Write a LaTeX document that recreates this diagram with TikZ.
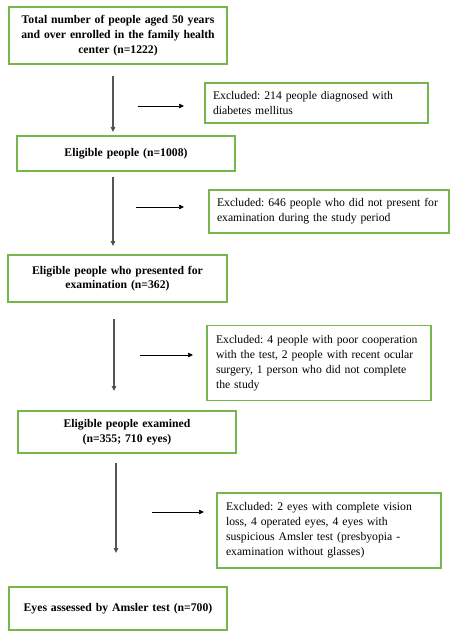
\documentclass[tikz,border=0pt]{standalone}
\usepackage{fontspec}
\setmainfont{Liberation Serif}
\usetikzlibrary{arrows.meta}
\definecolor{boxgreen}{RGB}{118,182,76}
\definecolor{arrgray}{RGB}{85,85,85}
\frenchspacing
\begin{document}
\begin{tikzpicture}[x=1pt,y=-1pt,
  mainbox/.style={draw=boxgreen,line width=1.3pt,rectangle,inner sep=0pt,align=center,
    font=\fontsize{11.7}{14.7}\selectfont\bfseries},
  exbox/.style={draw=boxgreen,line width=1.3pt,rectangle,inner sep=0pt,align=left,
    font=\fontsize{11.7}{14.9}\selectfont},
  vflow/.style={draw=arrgray,line width=1.1pt,-{Triangle[length=5pt,width=4.5pt,fill=black]}},
  hflow/.style={draw=black,line width=0.7pt,-{Triangle[length=5pt,width=4.5pt]}}
]
\useasboundingbox (0,0) rectangle (450,636);
\fill[white] (0,0) rectangle (450,636);

\node[mainbox,minimum width=218pt,minimum height=57pt,text width=210pt] (b1) at (118,35.5)
  {Total number of people aged 50 years\\ and over enrolled in the family health\\ center (n=1222)};
\node[exbox,minimum width=223pt,minimum height=40pt,text width=207pt] (e1) at (316.5,103)
  {Excluded: 214 people diagnosed with\\ diabetes mellitus};
\node[mainbox,minimum width=218pt,minimum height=35pt,text width=210pt] (b2) at (126,153.5)
  {Eligible people (n=1008)};
\node[exbox,minimum width=240pt,minimum height=43pt,text width=224pt] (e2) at (329,211.5)
  {Excluded: 646 people who did not present for\\ examination during the study period};
\node[mainbox,minimum width=219pt,minimum height=47pt,text width=210pt] (b3) at (117.5,278.5)
  {Eligible people who presented for\\ examination (n=362)};
\node[exbox,minimum width=224pt,minimum height=75pt,text width=206pt] (e3) at (319,363)
  {Excluded: 4 people with poor cooperation\\ with the test, 2 people with recent ocular\\ surgery, 1 person who did not complete\\ the study};
\node[mainbox,minimum width=218pt,minimum height=42pt,text width=210pt] (b4) at (127,432)
  {Eligible people examined\\ (n=355; 710 eyes)};
\node[exbox,minimum width=224pt,minimum height=75pt,text width=206pt] (e4) at (329,530.5)
  {Excluded: 2 eyes with complete vision\\ loss, 4 operated eyes, 4 eyes with\\ suspicious Amsler test (presbyopia -\\ examination without glasses)};
\node[mainbox,minimum width=218pt,minimum height=43pt,text width=210pt] (b5) at (118,608.5)
  {Eyes assessed by Amsler test (n=700)};

% connector end points
\coordinate (v1s) at (113,76);  \coordinate (v1e) at (113,132);
\coordinate (h1s) at (138,106); \coordinate (h1e) at (184,106);
\coordinate (v2s) at (113,177); \coordinate (v2e) at (113,246);
\coordinate (h2s) at (136,207); \coordinate (h2e) at (184,207);
\coordinate (v3s) at (114,319); \coordinate (v3e) at (114,391);
\coordinate (h3s) at (140,355); \coordinate (h3e) at (193,355);
\coordinate (v4s) at (116,463); \coordinate (v4e) at (116,553);
\coordinate (h4s) at (152,512); \coordinate (h4e) at (204,512);

\draw[vflow] (v1s) -- (v1e);
\draw[hflow] (h1s) -- (h1e);
\draw[vflow] (v2s) -- (v2e);
\draw[hflow] (h2s) -- (h2e);
\draw[vflow] (v3s) -- (v3e);
\draw[hflow] (h3s) -- (h3e);
\draw[vflow] (v4s) -- (v4e);
\draw[hflow] (h4s) -- (h4e);
\end{tikzpicture}
\end{document}
